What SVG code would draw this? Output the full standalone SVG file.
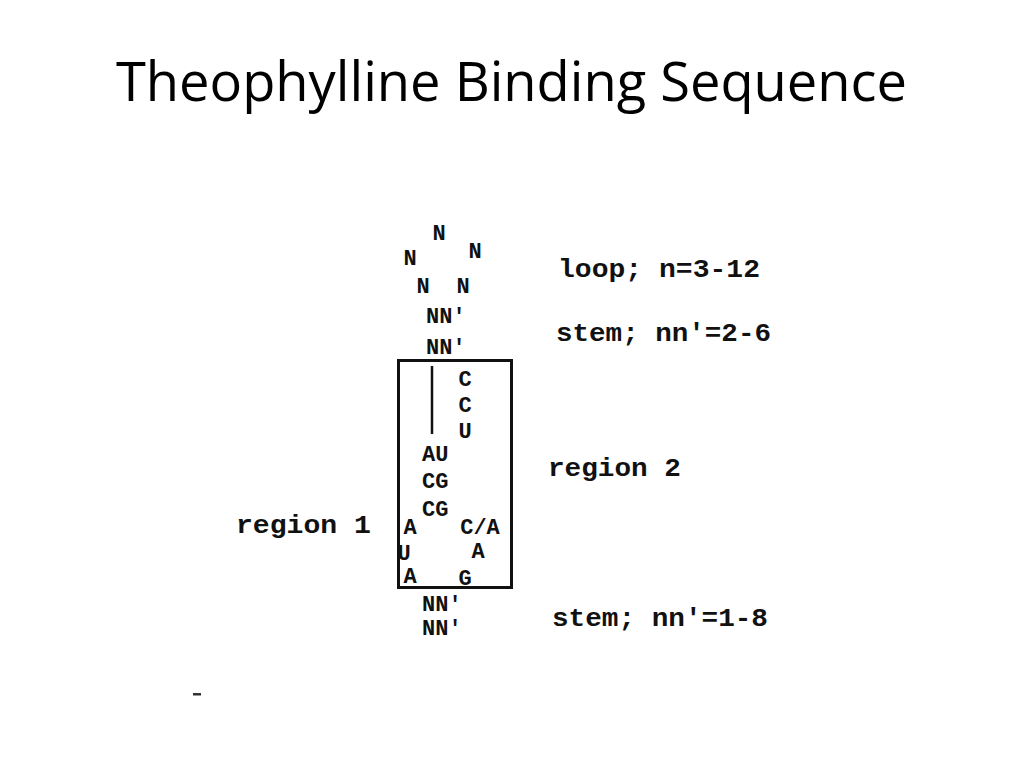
<svg xmlns="http://www.w3.org/2000/svg" width="1024" height="768" viewBox="0 0 1024 768">
<style>
.title{font-family:"Open Sans","Liberation Sans",sans-serif;font-size:55px;fill:#000}
.seq{font-family:"Liberation Mono","DejaVu Sans Mono",monospace;font-weight:bold;font-size:22px;fill:#111}
.lbl{font-family:"Liberation Mono","DejaVu Sans Mono",monospace;font-weight:bold;font-size:25px;fill:#111}
</style>
<rect width="1024" height="768" fill="#fff"/>
<text class="title" x="116" y="101" textLength="791" lengthAdjust="spacingAndGlyphs">Theophylline Binding Sequence</text>

<g id="connectors" stroke="#111" fill="none">
  <rect x="398.5" y="360.5" width="113" height="227" stroke-width="3"/>
  <line x1="432" y1="366" x2="432" y2="434" stroke-width="2.5"/>
</g>

<g id="loop" class="seq" text-anchor="middle">
  <text x="439" y="240">N</text>
  <text x="410" y="265">N</text>
  <text x="475" y="258">N</text>
  <text x="423" y="293">N</text>
  <text x="463" y="293">N</text>
</g>
<g id="stem-top" class="seq">
  <text x="426" y="323">NN'</text>
  <text x="426" y="354">NN'</text>
</g>
<g id="region2-seq" class="seq" text-anchor="middle">
  <text x="465" y="386">C</text>
  <text x="465" y="412">C</text>
  <text x="465" y="438">U</text>
</g>
<g id="pairs" class="seq">
  <text x="422" y="461">AU</text>
  <text x="422" y="488">CG</text>
  <text x="422" y="516">CG</text>
</g>
<g id="region1-seq" class="seq" text-anchor="middle">
  <text x="410" y="534">A</text>
  <text x="404" y="560">U</text>
  <text x="410" y="583">A</text>
</g>
<g id="bulge" class="seq" text-anchor="middle">
  <text x="480" y="534">C/A</text>
  <text x="478" y="558">A</text>
  <text x="465" y="585">G</text>
</g>
<g id="stem-bottom" class="seq">
  <text x="422" y="611">NN'</text>
  <text x="422" y="635">NN'</text>
</g>

<g id="labels" class="lbl">
  <text x="558" y="277" textLength="202" lengthAdjust="spacingAndGlyphs">loop;  n=3-12</text>
  <text x="556" y="341" textLength="215" lengthAdjust="spacingAndGlyphs">stem;  nn'=2-6</text>
  <text x="548" y="476" textLength="133" lengthAdjust="spacingAndGlyphs">region 2</text>
  <text x="236" y="533" textLength="135" lengthAdjust="spacingAndGlyphs">region 1</text>
  <text x="552" y="626" textLength="216" lengthAdjust="spacingAndGlyphs">stem;  nn'=1-8</text>
</g>
<rect x="193" y="693" width="8" height="2.5" fill="#333"/>
</svg>
